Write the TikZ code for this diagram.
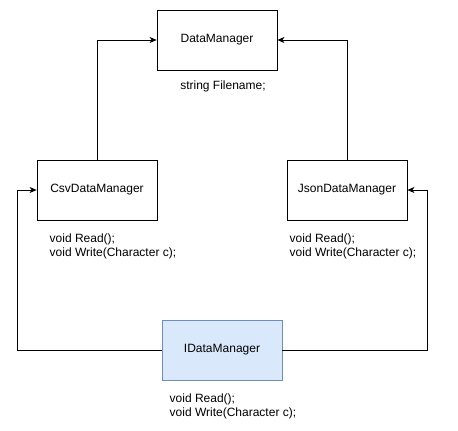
\documentclass[tikz,border=0pt]{standalone}
\usepackage{fontspec}
\setmainfont{Liberation Sans}
\usetikzlibrary{arrows.meta}
\begin{document}
\begin{tikzpicture}[x=1pt,y=-1pt,
  box/.style={draw=black, line width=0.8pt, minimum width=120pt, minimum height=60pt, inner sep=0pt, font=\fontsize{12}{14}\selectfont},
  ibox/.style={box, draw={rgb,255:red,108;green,142;blue,191}, fill={rgb,255:red,218;green,232;blue,252}},
  lbl/.style={inner sep=0pt, align=left, anchor=west, font=\fontsize{12}{14}\selectfont},
  arr/.style={line width=0.8pt, -{Stealth[length=7pt,width=6pt,inset=2pt]}},
  ln/.style={line width=0.8pt}]
\useasboundingbox (0,0) rectangle (458,431);
\node[box] (dm) at (217,40) {DataManager};
\node[box] (csv) at (97,190) {CsvDataManager};
\node[box] (json) at (347,190) {JsonDataManager};
\node[ibox] (idm) at (222,350) {IDataManager};
\node[inner sep=0pt, font=\fontsize{12}{14}\selectfont] (dmt) at (223,86) {string Filename;};
\node[lbl] (csvt) at (49.5,246) {void Read();\\void Write(Character c);};
\node[lbl] (jsont) at (289.5,246) {void Read();\\void Write(Character c);};
\node[lbl] (idmt) at (169.5,406) {void Read();\\void Write(Character c);};
\coordinate (cl) at (17,350);
\coordinate (cr) at (427,350);
\draw[arr] (csv.north) |- (dm.west);
\draw[arr] (json.north) |- (dm.east);
\draw[arr] (idm.west) -- (cl) |- (csv.west);
\draw[arr] (idm.east) -- (cr) |- (json.east);
\end{tikzpicture}
\end{document}
